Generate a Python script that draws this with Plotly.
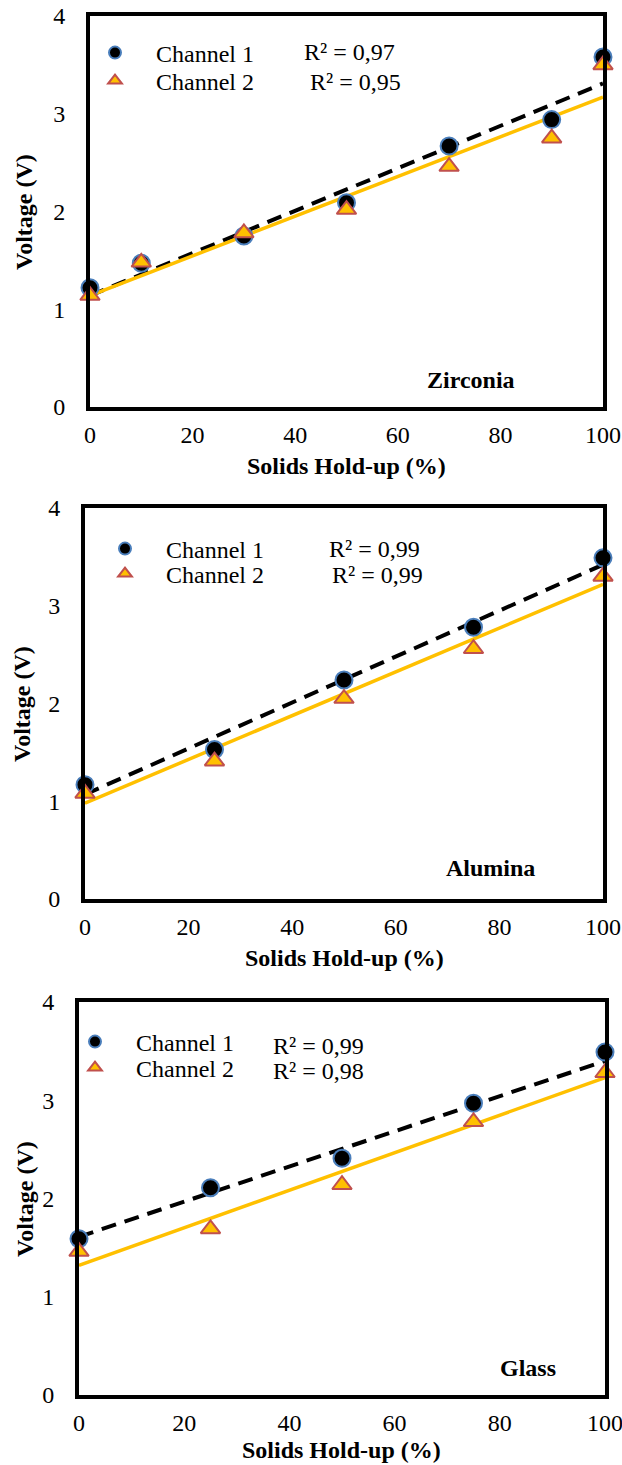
import plotly.graph_objects as go

W, H = 622, 1465

# ---------------- data ----------------
zr_x = [0, 10, 30, 50, 70, 90, 100]
zr_ch1 = [1.22, 1.47, 1.75, 2.09, 2.67, 2.94, 3.58]
zr_ch2 = [1.14, 1.48, 1.78, 2.02, 2.46, 2.75, 3.50]

al_x = [0, 25, 50, 75, 100]
al_ch1 = [1.17, 1.53, 2.24, 2.78, 3.49]
al_ch2 = [1.08, 1.41, 2.05, 2.56, 3.30]

gl_x = [0, 25, 50, 75, 100]
gl_ch1 = [1.59, 2.11, 2.41, 2.97, 3.49]
gl_ch2 = [1.46, 1.69, 2.14, 2.78, 3.28]

# linear trend lines (values at the ends of the x range)
trend_x = [0, 100]
zr_fit1 = [1.14, 3.31]
zr_fit2 = [1.14, 3.17]
al_fit1 = [1.07, 3.42]
al_fit2 = [0.98, 3.22]
gl_fit1 = [1.61, 3.40]
gl_fit2 = [1.32, 3.23]

zr_r2 = ["R² = 0,97", "R² = 0,95"]
al_r2 = ["R² = 0,99", "R² = 0,99"]
gl_r2 = ["R² = 0,99", "R² = 0,98"]

materials = ["Zirconia", "Alumina", "Glass"]
series_names = ["Channel 1", "Channel 2"]
x_ticks = [0, 20, 40, 60, 80, 100]
y_ticks = [0, 1, 2, 3, 4]

# ---------------- layout geometry (pixels) ----------------
FONT = "Liberation Serif, Times New Roman, serif"
# box: left, right, top, bottom
boxes = [(90, 603, 16, 407), (85, 603, 508, 899), (79, 605, 1002, 1395)]
# legend rows: (symbol x, row1 y, row2 y)
leg_pos = [(116, 53, 81), (126, 549, 574), (96, 1042, 1068)]
# R2 text: (x1, y1, x2, y2) left edges
r2_pos = [(303, 52, 309, 82), (328, 549, 331, 575), (272, 1046, 272, 1071)]
mat_pos = [(471, 380), (490, 868), (528, 1368)]
ytitle_pos = [(24, 212), (22, 704), (25, 1199)]
xtitle_pos = [(346, 466), (344, 958), (342, 1450)]

px = lambda v: v / W
py = lambda v: 1 - v / H

CIRC = dict(color="black", size=17, symbol="circle", line=dict(color="#4A7EBB", width=2))
TRI = dict(color="#FFC000", size=17, symbol="triangle-up", line=dict(color="#C0504D", width=2))

fig = go.Figure()
panels = [
    (zr_x, zr_ch1, zr_ch2, zr_fit1, zr_fit2, zr_r2),
    (al_x, al_ch1, al_ch2, al_fit1, al_fit2, al_r2),
    (gl_x, gl_ch1, gl_ch2, gl_fit1, gl_fit2, gl_r2),
]

annotations = []
for i, (xs, c1, c2, f1, f2, r2) in enumerate(panels):
    n = i + 1
    xa = "x" if n == 1 else f"x{n}"
    ya = "y" if n == 1 else f"y{n}"
    lg1 = "legend" if i == 0 else f"legend{2 * i + 1}"
    lg2 = f"legend{2 * i + 2}"
    fig.add_trace(go.Scatter(x=trend_x, y=f1, mode="lines", xaxis=xa, yaxis=ya,
                             line=dict(color="black", width=4, dash="15px,9px"),
                             showlegend=False, hoverinfo="skip"))
    fig.add_trace(go.Scatter(x=trend_x, y=f2, mode="lines", xaxis=xa, yaxis=ya,
                             line=dict(color="#FFC000", width=3.5),
                             showlegend=False, hoverinfo="skip"))
    fig.add_trace(go.Scatter(x=xs, y=c1, mode="markers", name=series_names[0],
                             xaxis=xa, yaxis=ya, marker=CIRC, cliponaxis=False,
                             legend=lg1))
    fig.add_trace(go.Scatter(x=xs, y=c2, mode="markers", name=series_names[1],
                             xaxis=xa, yaxis=ya, marker=TRI, cliponaxis=False,
                             legend=lg2))

    l, r, t, b = boxes[i]
    axis_common = dict(showline=True, linecolor="black", linewidth=4, mirror=True,
                       showgrid=False, zeroline=False, ticks="outside",
                       tickcolor="rgba(0,0,0,0)", automargin=False,
                       ticklabeloverflow="allow",
                       tickfont=dict(family=FONT, size=24, color="black"))
    fig.layout[f"xaxis{'' if n == 1 else n}"] = dict(
        axis_common, domain=[px(l), px(r)], range=[0, 100], tickvals=x_ticks,
        ticklen=3, anchor=ya)
    fig.layout[f"yaxis{'' if n == 1 else n}"] = dict(
        axis_common, domain=[py(b), py(t)], range=[0, 4], tickvals=y_ticks,
        ticklen=16, anchor=xa)

    sx, ly1, ly2 = leg_pos[i]
    for lg, yy in ((lg1, ly1), (lg2, ly2)):
        fig.layout[lg] = dict(x=px(sx - 42), y=py(yy), xanchor="left", yanchor="middle",
                              bgcolor="rgba(0,0,0,0)", borderwidth=0,
                              itemwidth=72, itemsizing="constant",
                              font=dict(family=FONT, size=24, color="black"))

    x1, y1, x2, y2 = r2_pos[i]
    for txt, xx, yy in ((r2[0], x1, y1), (r2[1], x2, y2)):
        annotations.append(dict(text=txt, x=px(xx), y=py(yy), xref="paper", yref="paper",
                                xanchor="left", yanchor="middle", showarrow=False,
                                borderpad=0,
                                font=dict(family=FONT, size=24, color="black")))
    mx, my = mat_pos[i]
    annotations.append(dict(text=f"<b>{materials[i]}</b>", x=px(mx), y=py(my),
                            xref="paper", yref="paper", xanchor="center", yanchor="middle",
                            showarrow=False, font=dict(family=FONT, size=24, color="black")))
    tx, ty = ytitle_pos[i]
    annotations.append(dict(text="<b>Voltage (V)</b>", x=px(tx), y=py(ty), xref="paper",
                            yref="paper", xanchor="center", yanchor="middle", textangle=-90,
                            showarrow=False, font=dict(family=FONT, size=24, color="black")))
    tx, ty = xtitle_pos[i]
    annotations.append(dict(text="<b>Solids Hold-up (%)</b>", x=px(tx), y=py(ty),
                            xref="paper", yref="paper", xanchor="center", yanchor="middle",
                            showarrow=False, font=dict(family=FONT, size=24, color="black")))

fig.update_layout(width=W, height=H, autosize=False,
                  margin=dict(l=0, r=0, t=0, b=0, autoexpand=False),
                  paper_bgcolor="white", plot_bgcolor="rgba(0,0,0,0)",
                  annotations=annotations, showlegend=True)

fig.write_html("out.html")
